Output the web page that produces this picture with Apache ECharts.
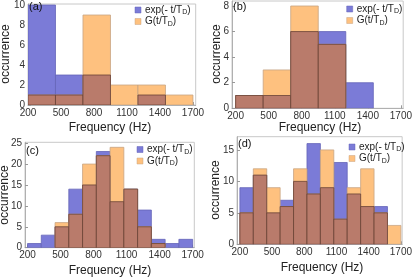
<!DOCTYPE html>
<html>
<head>
<meta charset="utf-8">
<script src="https://cdn.jsdelivr.net/npm/echarts@6/dist/echarts.min.js"></script>
<style>
html,body{margin:0;padding:0;background:#fff;}
#chart{width:415px;height:277px;}
</style>
</head>
<body>
<div id="chart"></div>
<script>
// ---- data ----
const edgesA = [200, 450, 700, 950, 1200, 1450, 1700];
const expA = [10, 3, 3, 0, 1, 0];
const gA   = [1, 1, 9, 2, 2, 1];

const edgesB = [200, 450, 700, 950, 1200, 1450, 1700];
const expB = [1, 1, 6, 6, 2, 0];
const gB   = [1, 3, 8, 5, 0, 0];

const edgesC = [200, 325, 450, 575, 700, 825, 950, 1075, 1200, 1325, 1450, 1575, 1700];
const expC = [1, 3, 5, 14, 15, 23, 11, 14, 9, 2, 1, 2];
const gC   = [0, 0, 6, 8, 20, 22, 24, 14, 5, 1, 0, 0];

const edgesD = [200, 325, 450, 575, 700, 825, 950, 1075, 1200, 1325, 1450, 1575, 1700];
const expD = [9, 11, 5, 7, 10, 16, 9, 13, 8, 6, 6, 0];
const gD   = [5, 12, 9, 6, 12, 8, 15, 4, 9, 12, 5, 3];

const xTicks = [200, 500, 800, 1100, 1400, 1700];
const yTicksA = [0, 2, 4, 6, 8, 10];
const yTicksB = [0, 2, 4, 6, 8];
const yTicksC = [0, 5, 10, 15, 20, 25];
const yTicksD = [0, 5, 10, 15];
const panelLabels = ['(a)', '(b)', '(c)', '(d)'];

// ---- styling ----
const FONT = 'Liberation Sans';
const BLUE = '#7b7bd7', BLUE_E = '#6565b8';
const ORANGE = '#fec17f', ORANGE_E = '#c8a583';
const BROWN = '#b97b6b', BROWN_E = '#6a4236';

const panels = [
  {edges: edgesA, e: expA, g: gA, yt: yTicksA, grid:{left:28, top:4, width:167.7, height:101}, xmin:200, xmax:1725, ymax:10.1},
  {edges: edgesB, e: expB, g: gB, yt: yTicksB, grid:{left:232, top:1, width:174.7, height:107.3}, xmin:167, xmax:1721, ymax:8.39},
  {edges: edgesC, e: expC, g: gC, yt: yTicksC, grid:{left:25, top:142.3, width:169.3, height:105.4}, xmin:177, xmax:1715, ymax:25.2},
  {edges: edgesD, e: expD, g: gD, yt: yTicksD, grid:{left:237, top:136.7, width:168.7, height:107.6}, xmin:173, xmax:1712, ymax:17.1}
];

function binData(edges, vals) {
  return vals.map((v, i) => [edges[i], edges[i + 1], v]);
}

function makeRender(fill, stroke) {
  return function (params, api) {
    const h = api.value(2);
    if (!h) return null;
    const p0 = api.coord([api.value(0), 0]);
    const p1 = api.coord([api.value(1), h]);
    const rect = {x: p0[0], y: p1[1], width: p1[0] - p0[0], height: p0[1] - p1[1]};
    return {
      type: 'rect',
      shape: rect,
      style: {fill: fill, stroke: stroke, lineWidth: 0.8}
    };
  };
}

const plain = v => String(v);
const grids = [], xAxes = [], yAxes = [], series = [], graphics = [];

panels.forEach((p, k) => {
  grids.push(Object.assign({show: true, borderColor: '#c8c8c8', borderWidth: 1, backgroundColor: 'transparent'}, p.grid));
  xAxes.push({
    type: 'value', gridIndex: k, min: p.xmin, max: p.xmax,
    axisLine: {show: true, lineStyle: {color: '#b0b0b0', width: 1}},
    axisTick: {show: true, inside: true, length: 3, customValues: xTicks, lineStyle: {color: '#999'}},
    axisLabel: {customValues: xTicks, formatter: plain, fontSize: 10, color: '#333', margin: 3, fontFamily: FONT},
    splitLine: {show: false}
  });
  yAxes.push({
    type: 'value', gridIndex: k, min: 0, max: p.ymax,
    axisLine: {show: true, lineStyle: {color: '#b0b0b0', width: 1}},
    axisTick: {show: true, inside: true, length: 3, customValues: p.yt, lineStyle: {color: '#999'}},
    axisLabel: {customValues: p.yt, formatter: plain, fontSize: 10, color: '#333', margin: 3, fontFamily: FONT},
    splitLine: {show: false}
  });
  const mins = p.e.map((v, i) => Math.min(v, p.g[i]));
  series.push({
    type: 'custom', name: 'exp(- t/TD)', xAxisIndex: k, yAxisIndex: k,
    renderItem: makeRender(BLUE, BLUE_E), data: binData(p.edges, p.e),
    encode: {x: [0, 1], y: 2}, clip: true, silent: true
  });
  series.push({
    type: 'custom', name: 'G(t/TD)', xAxisIndex: k, yAxisIndex: k,
    renderItem: makeRender(ORANGE, ORANGE_E), data: binData(p.edges, p.g),
    encode: {x: [0, 1], y: 2}, clip: true, silent: true
  });
  series.push({
    type: 'custom', name: 'overlap', xAxisIndex: k, yAxisIndex: k,
    renderItem: makeRender(BROWN, BROWN_E), data: binData(p.edges, mins),
    encode: {x: [0, 1], y: 2}, clip: true, silent: true
  });
});

// axis names, panel labels, legends
const xNamePos = [[110, 128], [320, 128], [110, 271], [322, 267.7]];
const yNamePos = [[5.5, 54], [216.5, 54], [4.5, 195], [215.5, 190]];
const panelPos = [[29, 7], [233, 7], [26, 151], [238, 144]];
const legendPos = [[135, 10], [346.7, 9], [137, 149.5], [349, 147]];

for (let k = 0; k < 4; k++) {
  graphics.push({type: 'text', x: xNamePos[k][0], y: xNamePos[k][1],
    style: {text: 'Frequency (Hz)', font: '12px ' + FONT, fill: '#222', align: 'center', verticalAlign: 'middle'}});
  graphics.push({type: 'text', x: yNamePos[k][0], y: yNamePos[k][1], rotation: Math.PI / 2,
    style: {text: 'occurrence', font: '12px ' + FONT, fill: '#222', align: 'center', verticalAlign: 'middle'}});
  graphics.push({type: 'text', x: panelPos[k][0], y: panelPos[k][1], z: 10,
    style: {text: panelLabels[k], font: '11px ' + FONT, fill: '#111', align: 'left', verticalAlign: 'middle'}});
  const lx = legendPos[k][0], ly = legendPos[k][1];
  graphics.push({type: 'rect', x: lx, y: ly - 3, z: 10, shape: {width: 6, height: 6},
    style: {fill: BLUE, stroke: BLUE_E, lineWidth: 0.5}});
  graphics.push({type: 'rect', x: lx, y: ly + 8.5, z: 10, shape: {width: 6, height: 6},
    style: {fill: ORANGE, stroke: ORANGE_E, lineWidth: 0.5}});
  graphics.push({type: 'text', x: lx + 10, y: ly, z: 10,
    style: {text: '{n|exp(- t/T}{s|D}{n|)}', verticalAlign: 'middle', align: 'left',
      rich: {n: {fontSize: 10, fontFamily: FONT, fill: '#222'}, s: {fontSize: 7, fontFamily: FONT, fill: '#222', padding: [5, 0, 0, 0]}}}});
  graphics.push({type: 'text', x: lx + 10, y: ly + 11.5, z: 10,
    style: {text: '{n|G(t/T}{s|D}{n|)}', verticalAlign: 'middle', align: 'left',
      rich: {n: {fontSize: 10, fontFamily: FONT, fill: '#222'}, s: {fontSize: 7, fontFamily: FONT, fill: '#222', padding: [5, 0, 0, 0]}}}});
}

const chart = echarts.init(document.getElementById('chart'), null, {renderer: 'canvas'});
chart.setOption({
  animation: false,
  backgroundColor: '#fff',
  textStyle: {fontFamily: FONT},
  grid: grids,
  xAxis: xAxes,
  yAxis: yAxes,
  series: series,
  graphic: graphics
});
</script>
</body>
</html>
